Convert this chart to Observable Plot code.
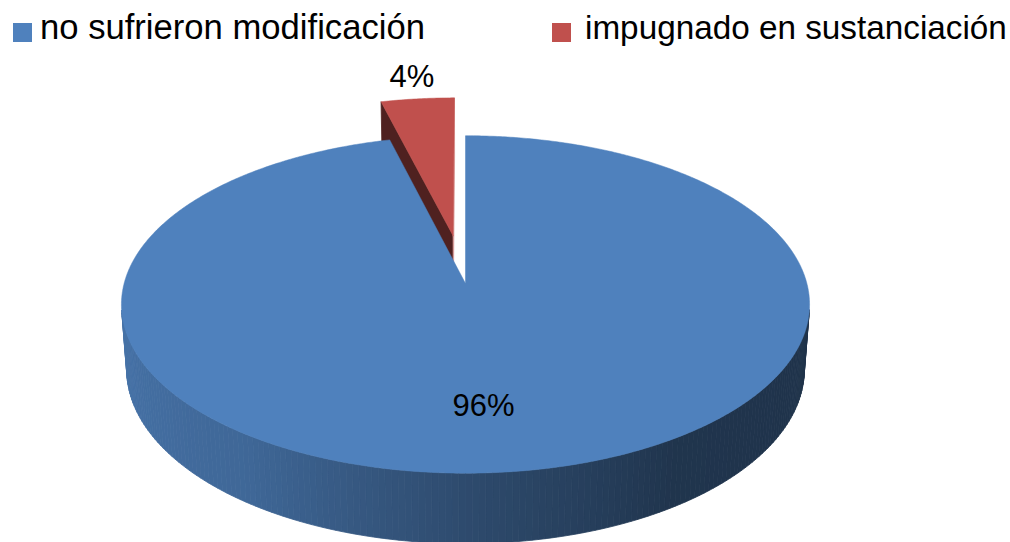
<!DOCTYPE html>
<html><head><meta charset="utf-8">
<script src="https://cdn.jsdelivr.net/npm/d3@7"></script>
<script src="https://cdn.jsdelivr.net/npm/@observablehq/plot@0.6"></script>
<style>
html,body{margin:0;padding:0;background:#fff;overflow:hidden;}
#legend{position:relative;width:1010px;height:50px;font-family:"Liberation Sans",Arial,sans-serif;font-size:34.5px;color:#000;overflow:hidden;}
#legend .sw{position:absolute;top:23px;width:19px;height:19px;}
#legend .lb{position:absolute;bottom:0;height:50px;line-height:34.5px;white-space:nowrap;}
#legend .lb span{position:absolute;left:0;top:13px;}
</style></head><body>
<div id="legend"></div>
<div id="chart"></div>
<script>
// ---- data ----
const categories = ["no sufrieron modificación", "impugnado en sustanciación"];
const values = [96, 4];
const colors = ["#4f81bd", "#c0504d"];

// ---- layout ----
const legendLeft = [13, 552];
const legendTextLeft = [40, 585];
const legendTextWidth = [385, 422];
const explode = [0, 0.3];
const labelPlace = [{dA: 3.1, r: 0.68}, {dA: 0, r: 1.18}];
const P = {cx: 465, cy: 283, F: 2400, D: 7.03, s: 0.4866, c: 0.8736, h: 0.22};
const cam = [0, -P.D * P.c, P.D * P.s];
const lightStops = [[100, 0.39], [147, 0.41], [180, 0.58], [215, 0.8], [260, 0.885]];

// legend
const leg = d3.select("#legend");
categories.forEach((cat, i) => {
  leg.append("div").attr("class", "sw").style("left", legendLeft[i] + "px").style("background", colors[i]);
  const lb = leg.append("div").attr("class", "lb").style("left", legendTextLeft[i] + "px");
  const sp = lb.append("span").text(cat);
  const w = sp.node().getBoundingClientRect().width;
  const fs = 34.5 * legendTextWidth[i] / w;
  sp.style("font-size", fs + "px").style("line-height", fs + "px").style("top", (42 - 0.905 * fs - 0.5) + "px");
});

function proj(X, Y, Z) {
  const v = Y * P.s + Z * P.c, w = Y * P.c - Z * P.s;
  const k = P.F / (P.D + w);
  return [P.cx + X * k, P.cy - v * k];
}
function light(tDeg) {
  if (tDeg <= lightStops[0][0]) return lightStops[0][1];
  for (let i = 1; i < lightStops.length; i++) {
    if (tDeg <= lightStops[i][0]) {
      const [a, fa] = lightStops[i - 1], [b, fb] = lightStops[i];
      return fa + (fb - fa) * (tDeg - a) / (b - a);
    }
  }
  return lightStops[lightStops.length - 1][1];
}
function shade(col, f) {
  const r = d3.rgb(col);
  if (f > 1) return d3.interpolateRgb(col, "#ffffff")(f - 1);
  return d3.rgb(r.r * f, r.g * f, r.b * f).formatHex();
}

const arcs = d3.pie().sort(null)(values);
const slices = arcs.map((a, i) => {
  const mid = (a.startAngle + a.endAngle) / 2, e = explode[i];
  const ox = e * Math.sin(mid), oy = e * Math.cos(mid);
  return {i, a, mid, ox, oy, depth: oy * P.c};
});
const order = slices.slice().sort((p, q) => q.depth - p.depth);

const marks = [];
let pid = 0;
order.forEach(sl => {
  const {i, a, ox, oy} = sl;
  const col = colors[i];
  const rim = (t, Z) => proj(ox + Math.sin(t), oy + Math.cos(t), Z);
  const apex = Z => proj(ox, oy, Z);
  const sideRows = [], topRows = [];
  const pushPoly = (arr, pts, fill) => {
    const id = pid++;
    pts.concat([pts[0]]).forEach(p => arr.push({id, x: p[0], y: p[1], fill}));
  };
  const vis = (n, p) => (cam[0] - p[0]) * n[0] + (cam[1] - p[1]) * n[1] + (cam[2] - p[2]) * n[2] > 1e-6;
  const t0 = a.startAngle, t1 = a.endAngle;
  if (t1 - t0 < 2 * Math.PI - 1e-9) {
    const faces = [
      {t: t0, n: [-Math.cos(t0), Math.sin(t0), 0], f: 0.41},
      {t: t1, n: [Math.cos(t1), -Math.sin(t1), 0], f: 1.45}
    ];
    faces.forEach(fc => {
      if (vis(fc.n, [ox, oy, 0])) {
        pushPoly(sideRows, [apex(0), rim(fc.t, 0), rim(fc.t, -P.h), apex(-P.h)], shade(col, fc.f));
      }
    });
  }
  const step = Math.PI / 180;
  for (let t = t0; t < t1 - 1e-9; t += step) {
    const tb = Math.min(t + step, t1), tm = (t + tb) / 2;
    const p = [ox + Math.sin(tm), oy + Math.cos(tm), 0];
    if (!vis([Math.sin(tm), Math.cos(tm), 0], p)) continue;
    const f = light(tm * 180 / Math.PI);
    pushPoly(sideRows, [rim(t, 0), rim(tb, 0), rim(tb, -P.h), rim(t, -P.h)], shade(col, f));
  }
  const tp = [apex(0)];
  const N = Math.max(2, Math.ceil((t1 - t0) / (step / 2)));
  for (let k = 0; k <= N; k++) tp.push(rim(t0 + (t1 - t0) * k / N, 0));
  pushPoly(topRows, tp, col);
  marks.push(Plot.line(sideRows, {x: "x", y: "y", z: "id", fill: "fill", stroke: "fill", strokeWidth: 0.8, curve: "linear"}));
  marks.push(Plot.line(topRows, {x: "x", y: "y", z: "id", fill: "fill", stroke: "fill", strokeWidth: 0.5, curve: "linear"}));
});

const labelRows = slices.map(sl => {
  const lp = labelPlace[sl.i];
  const ang = sl.mid + lp.dA * Math.PI / 180;
  const [x, y] = proj(sl.ox + lp.r * Math.sin(ang), sl.oy + lp.r * Math.cos(ang), 0);
  return {x, y, text: values[sl.i] + "%"};
});
marks.push(Plot.text(labelRows, {x: "x", y: "y", text: "text", fontSize: 31, fill: "#000", textAnchor: "middle", lineAnchor: "middle"}));

const plot = Plot.plot({
  width: 1010, height: 492, margin: 0,
  x: {domain: [0, 1010], range: [0, 1010], axis: null},
  y: {domain: [50, 542], range: [0, 492], axis: null},
  color: {type: "identity"},
  style: {fontFamily: '"Liberation Sans", Arial, sans-serif', background: "#fff"},
  marks
});
document.getElementById("chart").appendChild(plot);
</script>
</body></html>
